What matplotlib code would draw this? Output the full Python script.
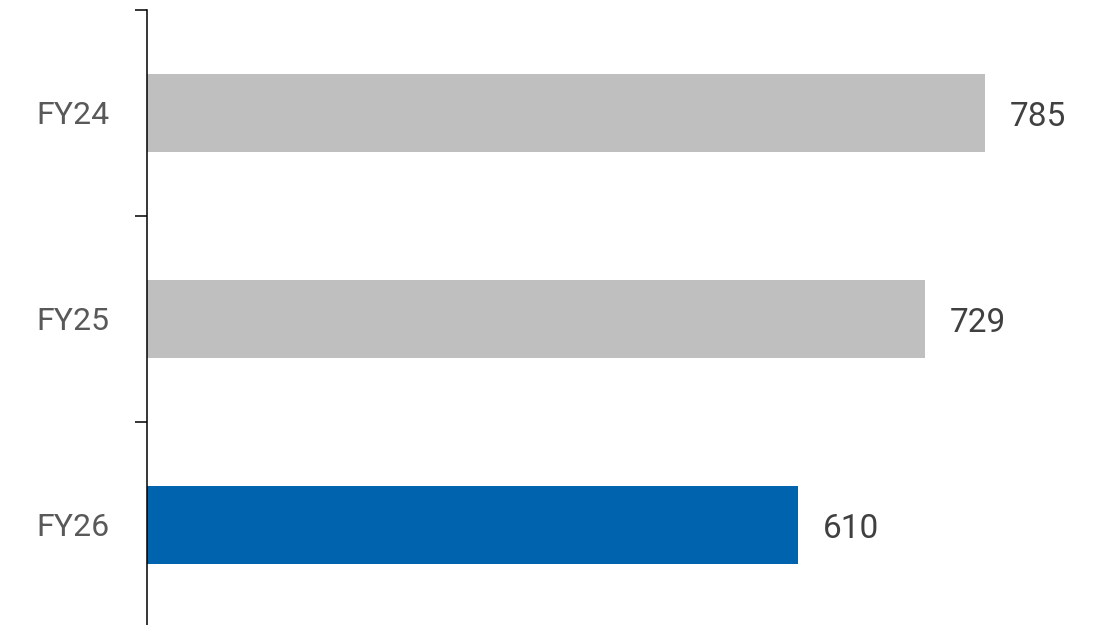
#!/usr/bin/env python3

import numpy as np
import matplotlib.pyplot as plt

plt.rcParams['font.family'] = ['Roboto', 'DejaVu Sans']

years  = ['FY24', 'FY25', 'FY26']
values = [785, 729, 610]
colors = ['#bfbfbf', '#bfbfbf', '#0063ae']

fig = plt.figure( figsize = ( 11.14, 6.25 ), dpi = 100 )
ax  = fig.add_axes( [ 147 / 1114, -3 / 625, 967 / 1114, 618 / 625 ] )

y = np.arange( len( years ) )
ax.barh( y, values, height = 0.375, color = colors )

for yi, v in zip( y, values ):
    ax.text( v + 23, yi + 0.02, '{:d}'.format( v ), va = 'center', ha = 'left',
             fontsize = 24, color = '#404040' )

ax.set_xlim( 0, 967 / 1.0675 )
ax.set_ylim( 2.5, -0.5 )

ax.set_yticks( y )
ax.set_yticklabels( years )
ax.set_yticks( np.arange( -0.5, 3.0, 1.0 ), minor = True )
ax.tick_params( axis = 'y', which = 'major', length = 0, pad = 27,
                labelsize = 23, labelcolor = '#595959' )
ax.tick_params( axis = 'y', which = 'minor', length = 8.6, width = 1.1,
                color = 'black' )

for s in [ 'top', 'right', 'bottom' ]:
    ax.spines[s].set_visible( False )
ax.spines['left'].set_linewidth( 1.1 )
ax.xaxis.set_visible( False )

fig.savefig( 'out.png', dpi = 100 )
